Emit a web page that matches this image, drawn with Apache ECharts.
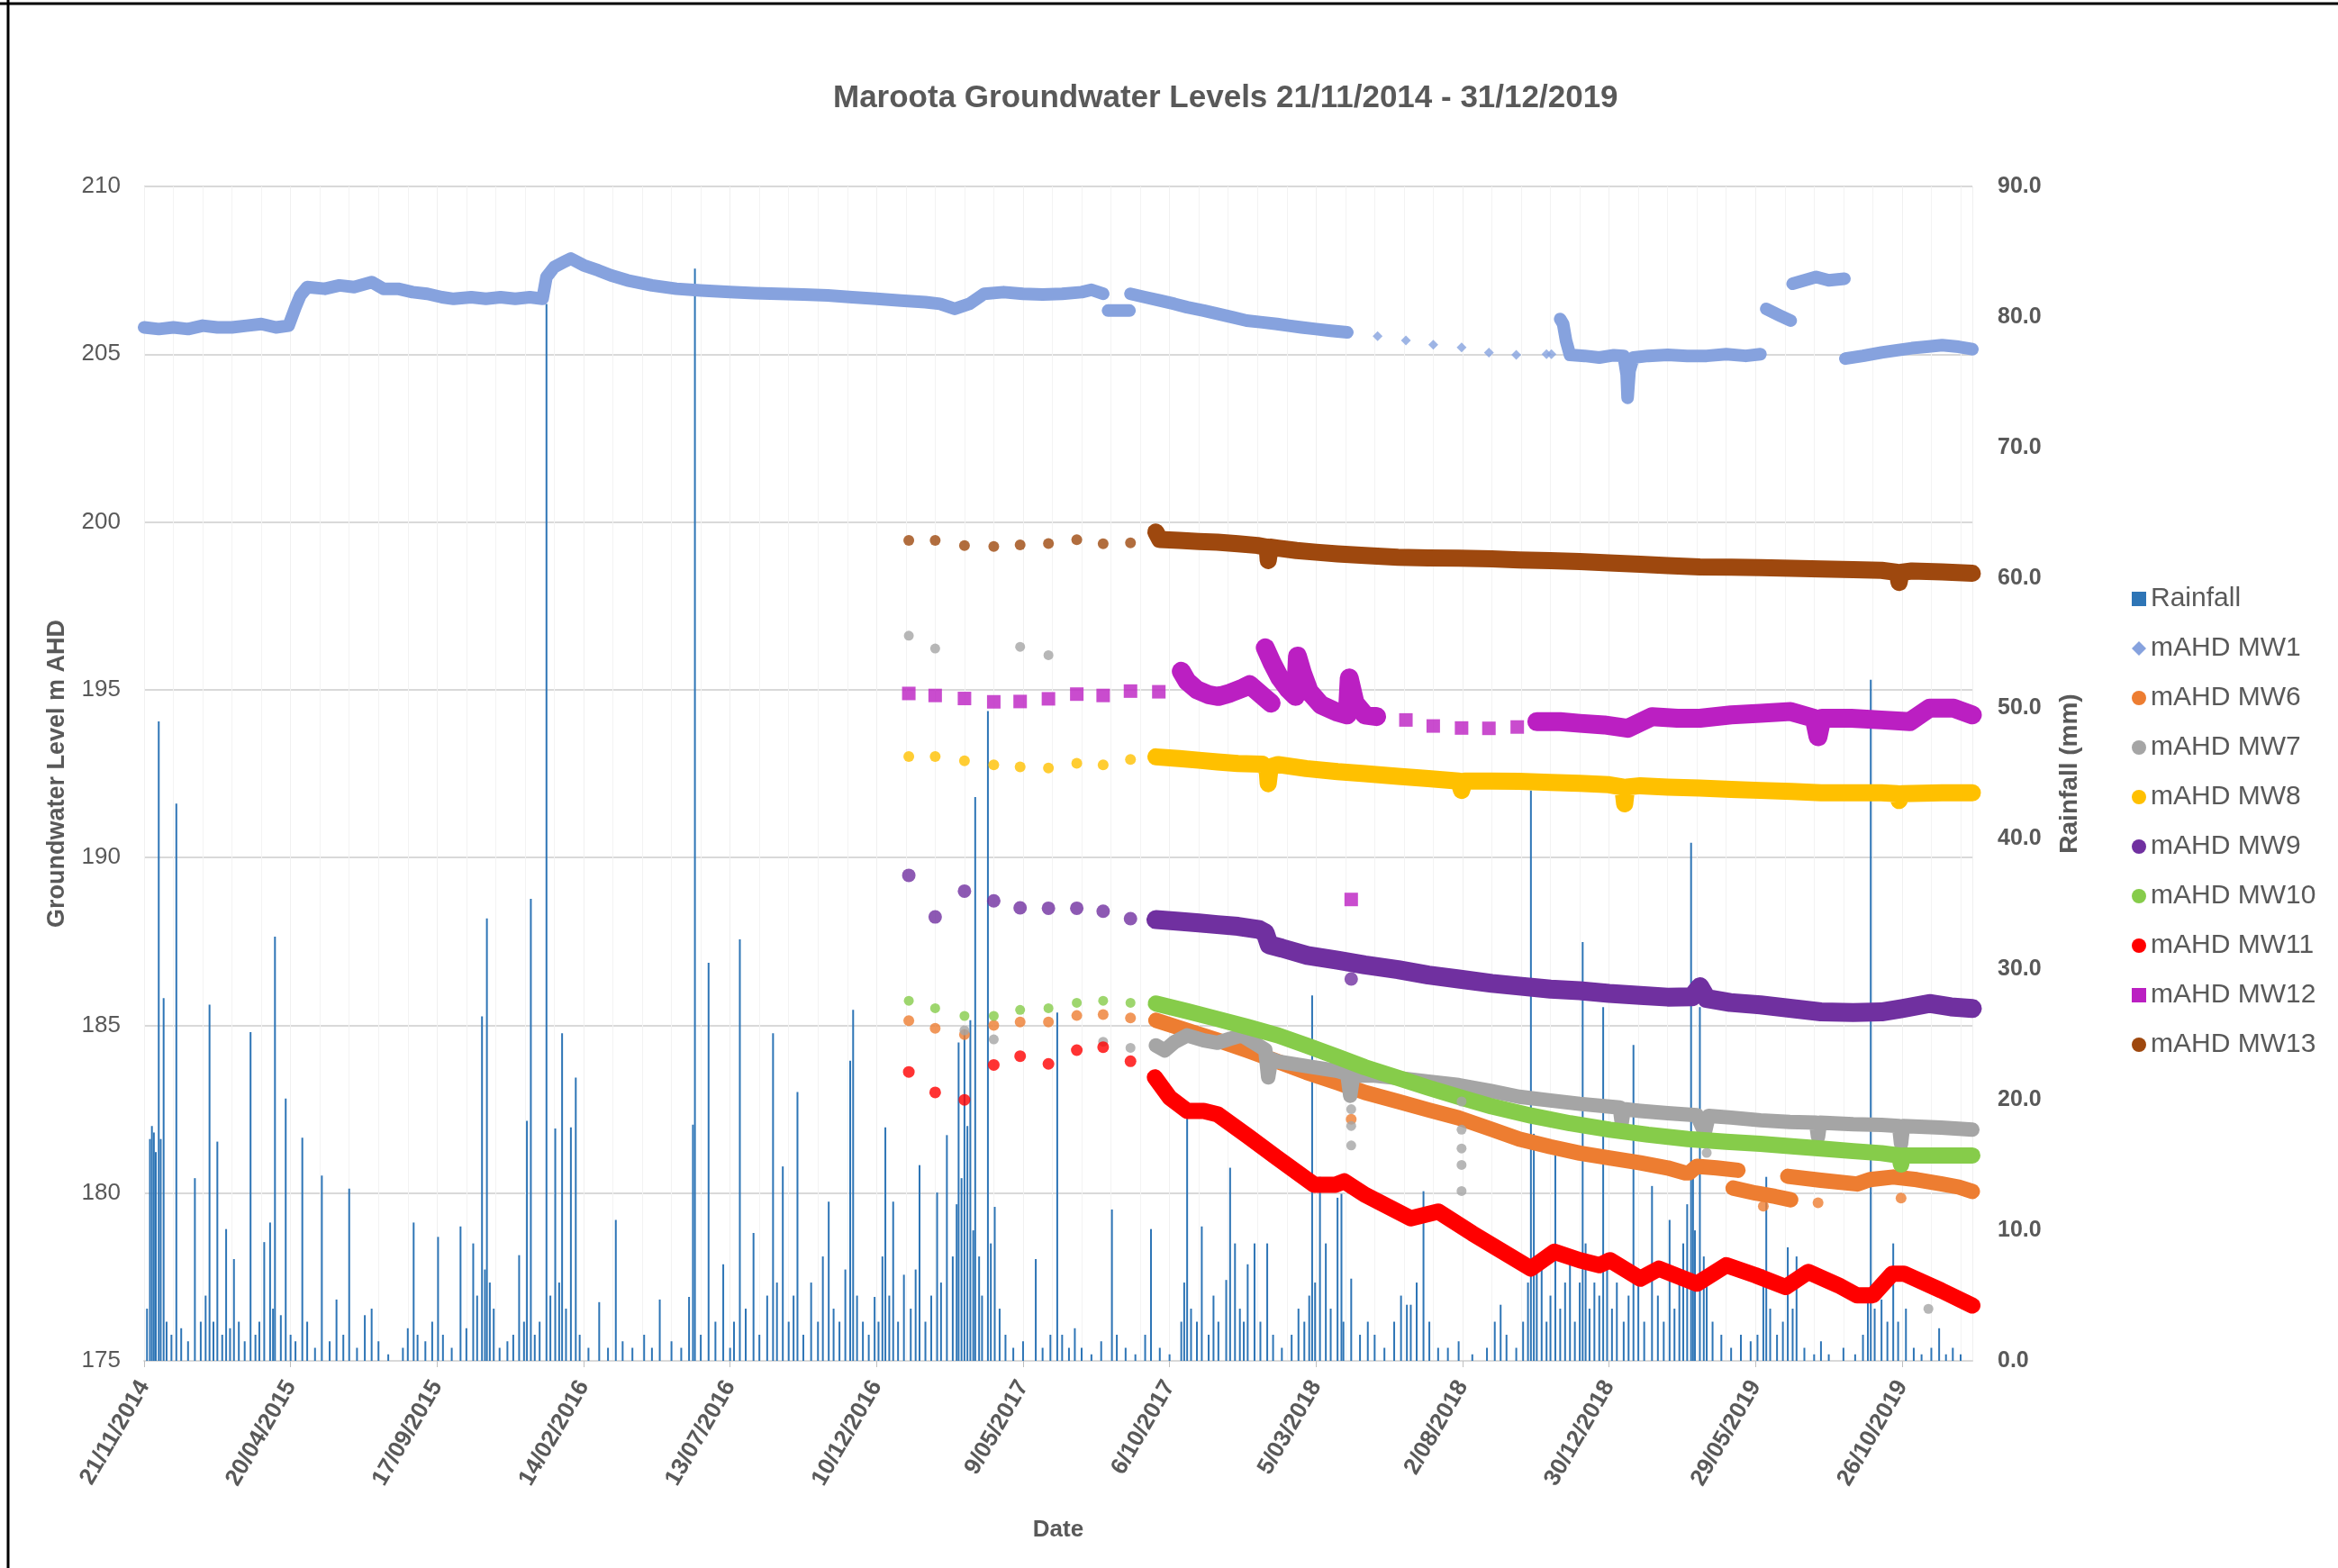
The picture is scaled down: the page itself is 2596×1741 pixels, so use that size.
<!DOCTYPE html>
<html>
<head>
<meta charset="utf-8">
<title>Maroota Groundwater Levels</title>
<script src="https://cdn.jsdelivr.net/npm/echarts@6/dist/echarts.min.js"></script>
<style>
    html, body { margin: 0; padding: 0; background: #fff; }
    #chart { width: 2596px; height: 1741px; }
</style>
</head>
<body>
<div id="chart"></div>
<script>
    // x values are days counted from 21/11/2014, the first date on the axis
    var dateLabels = ['21/11/2014', '20/04/2015', '17/09/2015', '14/02/2016', '13/07/2016', '10/12/2016',
        '9/05/2017', '6/10/2017', '5/03/2018', '2/08/2018', '30/12/2018', '29/05/2019', '26/10/2019'];

    // daily rainfall (mm), right axis
    var rainfall = [
        [3,4],[6,17],[8,18],[10,17.5],[12,16],[15,49],[17,17],[20,27.8],[23,3],[28,2],[33,42.7],[38,2.5],[45,1.5],
        [52,14],[58,3],[63,5],[67,27.3],[71,3],[75,16.8],[80,2],[84,10.1],[88,2.5],[92,7.8],[97,3],[103,1.5],
        [109,25.2],[114,2],[118,3],[123,9.1],[129,10.6],[132,4],[134,32.5],[140,3.5],[145,20.1],[150,2],[155,1.5],
        [162,17.1],[167,3],[175,1],[182,14.2],[190,1.5],[197,4.7],[204,2],[210,13.2],[218,1],[226,3.5],[233,4],
        [240,1.5],[250,0.5],[265,1],[270,2.5],[276,10.6],[280,2],[288,1.5],[295,3],[301,9.5],[306,2],[315,1],
        [324,10.3],[330,2.5],[337,9],[341,5],[346,26.4],[349,7],[351,33.9],[354,6],[358,4],[364,1],[372,1.5],
        [378,2],[384,8.1],[389,3],[392,18.4],[396,35.4],[400,2],[405,3],[412,81],[416,5],[421,17.8],[425,6],
        [428,25.1],[432,4],[437,17.9],[442,21.7],[446,2],[455,1],[466,4.5],[475,1],[483,10.8],[490,1.5],[500,1],
        [512,2],[520,1],[528,4.7],[540,1.5],[550,1],[558,4.9],[562,18.1],[564,83.7],[570,2],[578,30.5],[585,3],
        [593,7.4],[600,1],[604,3],[610,32.3],[616,4],[624,9.8],[630,2],[638,5],[644,25.1],[648,6],[654,14.9],
        [660,3],[665,5],[669,20.6],[675,2],[683,6],[690,3],[695,8],[701,12.2],[706,4],[712,3],[718,7],[723,23],
        [726,26.9],[730,5],[736,3],[742,2],[748,4.9],[752,3],[756,8],[759,17.9],[763,5],[767,12.2],[772,3],
        [778,6.6],[785,4],[790,7],[794,15],[800,3],[806,5],[812,12.9],[816,6],[822,17.3],[828,8],[832,12],
        [834,24.4],[837,14],[840,25.4],[843,18],[846,26.1],[849,10],[851,43.2],[855,8],[858,5],[864,49.8],
        [867,9],[871,11.8],[876,4],[882,2],[890,1],[900,1.5],[913,7.8],[920,1],[928,2],[935,26.7],
        [940,2],[947,1],[953,2.5],[960,1],[970,0.5],[980,1.5],[991,11.6],[996,2],[1005,1],[1015,0.5],[1025,2],
        [1031,10.1],[1040,1],[1050,0.5],[1062,3],[1065,6],[1068,19.5],[1072,4],[1078,3],[1083,10.3],[1090,2],
        [1095,5],[1100,3],[1108,6.2],[1112,14.8],[1117,9],[1122,4],[1126,3],[1130,7.4],[1137,9],[1143,3],
        [1150,9],[1156,2],[1165,1],[1175,2],[1182,4],[1188,3],[1193,5],[1196,28],[1199,6],[1204,14.1],[1210,9],
        [1215,4],[1222,12.5],[1226,12.8],[1228,3],[1236,6.3],[1245,2],[1253,3],[1260,2],[1270,1],[1280,3],
        [1287,5],[1293,4.3],[1297,4.3],[1303,6],[1310,13],[1316,3],[1325,1],[1335,1],[1346,1.5],[1360,0.5],
        [1375,1],[1383,3],[1389,4.3],[1395,2],[1405,1],[1412,3],[1417,6],[1420,43.7],[1423,17.4],[1426,8],
        [1431,7.6],[1436,3],[1440,5],[1445,16.3],[1450,4],[1455,6],[1460,8],[1465,3],[1470,6],[1473,32.1],
        [1476,9],[1480,4],[1485,6],[1490,5],[1494,27.1],[1498,8],[1503,4],[1508,6],[1515,3],[1520,5],[1525,24.2],
        [1530,6],[1536,3],[1544,13.4],[1550,5],[1556,3],[1562,10.8],[1567,4],[1572,6],[1576,9],[1580,12],
        [1584,39.7],[1586,14],[1588,10],[1593,27.1],[1597,8],[1600,6.5],[1606,3],[1615,2],[1625,1],[1635,2],
        [1645,1.5],[1652,2],[1658,7],[1661,14.1],[1665,4],[1672,2],[1678,3],[1683,8.7],[1688,4],[1692,8],
        [1700,1],[1710,0.5],[1717,1.5],[1725,0.5],[1740,1],[1752,0.5],[1760,2],[1765,5],[1768,52.2],[1772,4],
        [1779,4.7],[1785,3],[1791,9],[1796,3],[1804,4],[1812,1],[1820,0.5],[1830,1],[1838,2.5],[1845,0.5],
        [1852,1],[1860,0.5]
    ];

    // groundwater levels (m AHD): continuous logger records (null = gap) and single readings
    var mw1Line = [
        [0,205.8],[15,205.75],[30,205.8],[45,205.75],[60,205.85],[75,205.8],[90,205.8],[105,205.85],[120,205.9],
        [135,205.8],[148,205.85],[155,206.4],[160,206.75],[167,207.0],[185,206.95],[200,207.05],[215,207.0],
        [233,207.15],[245,206.95],[260,206.95],[275,206.85],[290,206.8],[305,206.7],[317,206.65],[335,206.7],
        [350,206.65],[365,206.7],[380,206.65],[395,206.7],[408,206.65],[412,207.3],[420,207.6],[430,207.75],
        [437,207.85],[450,207.65],[465,207.5],[478,207.35],[495,207.2],[520,207.05],[545,206.95],[570,206.9],
        [600,206.85],[625,206.82],[650,206.8],[675,206.78],[700,206.75],[725,206.7],[750,206.65],[775,206.6],
        [800,206.55],[815,206.5],[830,206.35],[845,206.5],[860,206.8],[880,206.85],[900,206.8],[920,206.78],
        [940,206.8],[960,206.85],[970,206.92],[982,206.8],[984,null],
        [987,206.3],[1009,206.3],[1009.5,null],
        [1010,206.8],[1025,206.7],[1040,206.6],[1055,206.5],[1068,206.4],[1085,206.3],[1100,206.2],[1115,206.1],
        [1129,206.0],[1145,205.95],[1160,205.9],[1172,205.85],[1185,205.8],[1200,205.75],[1215,205.7],
        [1232,205.65],[1240,null],
        [1450,206.05],[1453,205.9],[1456,205.4],[1460,204.98],[1475,204.95],[1490,204.9],[1505,204.97],
        [1515,204.95],[1518,204.4],[1519,203.7],[1521,204.5],[1525,204.9],[1540,204.95],[1560,204.98],
        [1580,204.95],[1600,204.95],[1620,205.0],[1640,204.95],[1655,205.0],[1658,null],
        [1661,206.35],[1668,206.25],[1675,206.15],[1686,206.0],[1687,null],
        [1688,207.1],[1700,207.2],[1712,207.3],[1725,207.2],[1741,207.25],[1741.5,null],
        [1742,204.87],[1760,204.95],[1779,205.05],[1795,205.12],[1810,205.18],[1825,205.22],[1841,205.27],
        [1858,205.22],[1872,205.15]
    ];
    var mw1Dots = [[1263,205.54],[1292,205.41],[1320,205.28],[1349,205.2],[1377,205.05],[1405,204.98],[1436,205.0],[1441,205.0]];

    var mw6Line = [
        [1036,185.15],[1068,184.85],[1099,184.56],[1130,184.25],[1161,183.92],[1190,183.6],[1222,183.29],
        [1250,183.0],[1284,182.73],[1315,182.48],[1346,182.24],[1380,181.9],[1408,181.61],[1440,181.38],
        [1470,181.19],[1500,181.05],[1532,180.9],[1560,180.75],[1578,180.6],[1582,180.6],[1590,180.8],
        [1610,180.75],[1632,180.68],[1633,null],
        [1627,180.15],[1650,180.0],[1670,179.9],[1686,179.8],[1686.5,null],
        [1683,180.5],[1717,180.38],[1754,180.27],[1767,180.4],[1791,180.48],[1815,180.4],[1841,180.27],
        [1858,180.18],[1872,180.05]
    ];
    var mw6Dots = [[783,185.14],[810,184.91],[840,184.72],[870,185.0],[897,185.1],[926,185.1],[955,185.29],
        [982,185.32],[1010,185.22],[1236,182.2],[1658,179.61],[1714,179.71],[1799,179.85]];

    var mw7Line = [
        [1036,184.4],[1045,184.25],[1055,184.5],[1068,184.7],[1085,184.55],[1099,184.48],[1112,184.6],
        [1124,184.7],[1138,184.45],[1148,184.27],[1151,183.45],[1154,184.0],[1161,183.92],[1191,183.78],
        [1222,183.64],[1232,183.55],[1235,182.9],[1238,183.5],[1260,183.5],[1284,183.43],[1315,183.32],
        [1346,183.22],[1378,183.05],[1408,182.87],[1440,182.76],[1470,182.66],[1511,182.55],[1513,182.1],
        [1515,182.5],[1532,182.45],[1560,182.38],[1590,182.32],[1598,181.8],[1602,182.3],[1625,182.25],
        [1655,182.17],[1685,182.12],[1712,182.1],[1714,181.68],[1716,182.1],[1750,182.05],[1779,182.03],
        [1797,182.0],[1799,181.47],[1801,182.0],[1840,181.95],[1872,181.89]
    ];
    var mw7Dots = [[783,196.61],[810,196.23],[840,184.85],[870,184.58],[897,196.28],[926,196.03],[982,184.51],
        [1010,184.33],[1236,182.5],[1236,182.0],[1236,181.42],[1349,182.73],[1349,181.89],[1349,181.33],
        [1349,180.84],[1349,180.06],[1600,181.2],[1827,176.55]];

    var mw8Line = [
        [1036,193.0],[1060,192.95],[1080,192.9],[1099,192.85],[1120,192.8],[1145,192.78],[1150,192.6],
        [1151,192.2],[1153,192.7],[1161,192.77],[1190,192.65],[1222,192.56],[1250,192.5],[1284,192.42],
        [1315,192.35],[1346,192.28],[1349,192.0],[1352,192.28],[1380,192.28],[1408,192.27],[1440,192.24],
        [1470,192.21],[1500,192.17],[1514,192.1],[1516,191.6],[1518,192.1],[1532,192.14],[1560,192.1],
        [1593,192.07],[1625,192.03],[1655,192.0],[1687,191.97],[1717,191.93],[1750,191.93],[1779,191.93],
        [1795,191.9],[1797,191.7],[1800,191.9],[1841,191.93],[1872,191.93]
    ];
    var mw8Dots = [[783,193.01],[810,193.01],[840,192.88],[870,192.76],[897,192.7],[926,192.67],[955,192.81],
        [982,192.76],[1010,192.92]];

    var mw9Line = [
        [1036,188.15],[1060,188.1],[1080,188.05],[1099,188.0],[1120,187.95],[1142,187.85],[1148,187.75],
        [1152,187.4],[1165,187.3],[1191,187.08],[1222,186.94],[1250,186.8],[1284,186.66],[1315,186.5],
        [1346,186.38],[1380,186.25],[1408,186.17],[1440,186.08],[1470,186.03],[1500,185.95],[1532,185.89],
        [1560,185.84],[1585,185.85],[1593,186.15],[1600,185.8],[1624,185.68],[1655,185.61],[1687,185.5],
        [1717,185.4],[1750,185.38],[1779,185.4],[1800,185.5],[1828,185.65],[1850,185.55],[1872,185.5]
    ];
    var mw9Dots = [[783,189.47],[810,188.23],[840,189.0],[870,188.71],[897,188.5],[926,188.49],[955,188.49],
        [982,188.4],[1010,188.18],[1236,186.38]];

    var mw10Line = [
        [1036,185.65],[1068,185.42],[1099,185.19],[1130,184.95],[1161,184.7],[1190,184.4],[1222,184.06],
        [1250,183.75],[1284,183.43],[1315,183.14],[1346,182.87],[1380,182.58],[1420,182.31],[1460,182.08],
        [1501,181.89],[1540,181.74],[1581,181.61],[1620,181.53],[1655,181.47],[1690,181.39],[1717,181.33],
        [1750,181.25],[1779,181.19],[1797,181.12],[1799,180.85],[1801,181.12],[1840,181.12],[1872,181.12]
    ];
    var mw10Dots = [[783,185.73],[810,185.51],[840,185.28],[870,185.28],[897,185.46],[926,185.51],[955,185.67],
        [982,185.73],[1010,185.67]];

    var mw11Line = [
        [1035,183.45],[1050,182.85],[1068,182.45],[1085,182.45],[1099,182.35],[1130,181.7],[1160,181.05],
        [1198,180.25],[1220,180.25],[1229,180.35],[1250,179.95],[1297,179.25],[1325,179.45],[1360,178.8],
        [1420,177.75],[1444,178.25],[1470,178.0],[1490,177.85],[1501,178.0],[1532,177.45],[1551,177.75],
        [1590,177.3],[1620,177.85],[1650,177.55],[1681,177.2],[1704,177.65],[1735,177.25],[1754,176.95],
        [1770,176.95],[1790,177.6],[1802,177.6],[1840,177.1],[1872,176.65]
    ];
    var mw11Dots = [[783,183.61],[810,183.0],[840,182.78],[870,183.82],[897,184.08],[926,183.85],[955,184.26],
        [982,184.35],[1010,183.93]];

    var mw12Line = [
        [1062,195.55],[1068,195.25],[1078,195.0],[1090,194.85],[1100,194.8],[1112,194.9],[1125,195.05],
        [1132,195.15],[1140,194.95],[1148,194.75],[1154,194.6],[1154.5,null],
        [1148,196.25],[1155,195.8],[1163,195.35],[1172,195.0],[1179,194.8],[1181,196.0],[1186,195.5],
        [1193,194.95],[1205,194.55],[1220,194.35],[1232,194.25],[1234,195.35],[1240,194.6],[1250,194.25],
        [1262,194.2],[1263,null],
        [1426,194.05],[1450,194.05],[1470,194.0],[1495,193.95],[1519,193.85],[1544,194.2],[1570,194.15],
        [1593,194.15],[1625,194.25],[1655,194.3],[1686,194.35],[1710,194.15],[1714,193.6],[1718,194.15],
        [1748,194.15],[1779,194.1],[1808,194.05],[1828,194.45],[1853,194.45],[1872,194.25]
    ];
    var mw12Dots = [[783,194.89],[810,194.83],[840,194.74],[870,194.64],[897,194.65],[926,194.73],[955,194.87],
        [982,194.83],[1010,194.96],[1039,194.94],[1236,188.75],[1292,194.1],[1320,193.92],[1349,193.86],
        [1377,193.85],[1406,193.89]];

    var mw13Line = [
        [1036,199.7],[1040,199.48],[1060,199.45],[1080,199.42],[1099,199.4],[1120,199.35],[1140,199.3],
        [1150,199.25],[1151,198.85],[1153,199.25],[1161,199.22],[1180,199.15],[1200,199.1],[1222,199.05],
        [1250,199.0],[1284,198.95],[1315,198.93],[1346,198.92],[1380,198.9],[1408,198.87],[1440,198.85],
        [1470,198.82],[1500,198.78],[1532,198.74],[1560,198.7],[1593,198.66],[1625,198.65],[1655,198.64],
        [1687,198.62],[1717,198.6],[1750,198.58],[1779,198.56],[1795,198.5],[1797,198.2],[1799,198.5],
        [1810,198.54],[1841,198.51],[1872,198.47]
    ];
    var mw13Dots = [[783,199.45],[810,199.45],[840,199.3],[870,199.27],[897,199.32],[926,199.36],[955,199.47],
        [982,199.35],[1010,199.38]];

    var textColor = '#595959';
    var font = 'Liberation Sans';

    function levelLine(name, data, color, width) {
        return {
            name: name, type: 'line', data: data, symbol: 'none', showSymbol: false,
            connectNulls: false, z: 3,
            itemStyle: { color: color },
            lineStyle: { color: color, width: width, cap: 'round', join: 'round' }
        };
    }
    function levelDots(name, data, color, symbol, size) {
        return {
            name: name, type: 'scatter', data: data, symbol: symbol, symbolSize: size, z: 3,
            itemStyle: { color: color }
        };
    }

    var wells = [
        { name: 'mAHD MW1', line: mw1Line, dots: mw1Dots, color: '#86A2DE', width: 14, symbol: 'diamond', size: 11 },
        { name: 'mAHD MW6', line: mw6Line, dots: mw6Dots, color: '#ED7D31', width: 17, symbol: 'circle', size: 12 },
        { name: 'mAHD MW7', line: mw7Line, dots: mw7Dots, color: '#A5A5A5', width: 16, symbol: 'circle', size: 11 },
        { name: 'mAHD MW8', line: mw8Line, dots: mw8Dots, color: '#FFC000', width: 19, symbol: 'circle', size: 12 },
        { name: 'mAHD MW9', line: mw9Line, dots: mw9Dots, color: '#7030A0', width: 21, symbol: 'circle', size: 15 },
        { name: 'mAHD MW10', line: mw10Line, dots: mw10Dots, color: '#86CC4A', width: 18, symbol: 'circle', size: 11 },
        { name: 'mAHD MW11', line: mw11Line, dots: mw11Dots, color: '#FF0000', width: 18, symbol: 'circle', size: 13 },
        { name: 'mAHD MW12', line: mw12Line, dots: mw12Dots, color: '#BB1FC2', width: 21, symbol: 'rect', size: 15 },
        { name: 'mAHD MW13', line: mw13Line, dots: mw13Dots, color: '#9E480E', width: 19, symbol: 'circle', size: 12 }
    ];

    var series = [{
        name: 'Rainfall', type: 'bar', yAxisIndex: 1, data: rainfall, barWidth: 2, z: 1,
        itemStyle: { color: '#2E75B6' }
    }];
    var legendData = [{ name: 'Rainfall', icon: 'rect' }];
    wells.forEach(function (w) {
        series.push(levelLine(w.name, w.line, w.color, w.width));
        series.push(levelDots(w.name, w.dots, w.color, w.symbol, w.size));
        legendData.push({ name: w.name, icon: w.symbol });
    });

    var option = {
        animation: false,
        backgroundColor: '#fff',
        textStyle: { fontFamily: font },
        title: {
            text: 'Maroota Groundwater Levels 21/11/2014 - 31/12/2019',
            left: 920, top: 87,
            textStyle: { fontFamily: font, fontSize: 35, fontWeight: 'bold', color: textColor }
        },
        legend: {
            orient: 'vertical', left: 2362, top: 645,
            itemWidth: 16, itemHeight: 16, itemGap: 25,
            data: legendData,
            textStyle: { fontFamily: font, fontSize: 30, lineHeight: 30, color: textColor }
        },
        grid: { left: 160, right: 406, top: 207, bottom: 230 },
        xAxis: {
            type: 'value', min: 0, max: 1872, interval: 150,
            name: 'Date', nameLocation: 'middle', nameGap: 175,
            nameTextStyle: { fontFamily: font, fontSize: 26, fontWeight: 'bold', color: textColor },
            axisLine: { lineStyle: { color: '#D9D9D9', width: 2 } },
            axisTick: { show: true, length: 7, lineStyle: { color: '#BFBFBF' } },
            axisLabel: {
                rotate: 60, margin: 24, fontSize: 26, fontWeight: 'bold', color: textColor, showMaxLabel: false,
                formatter: function (v) { return v % 150 === 0 ? (dateLabels[v / 150] || '') : ''; }
            },
            splitLine: { show: true, lineStyle: { color: '#F0F0F0', width: 1 } },
            minorTick: { show: false, splitNumber: 5 },
            minorSplitLine: { show: true, lineStyle: { color: '#F3F3F3', width: 1 } }
        },
        yAxis: [{
            type: 'value', min: 175, max: 210, interval: 5,
            name: 'Groundwater Level m AHD', nameLocation: 'middle', nameGap: 83,
            nameTextStyle: { fontFamily: font, fontSize: 27, fontWeight: 'bold', color: textColor },
            axisLine: { show: false }, axisTick: { show: false },
            axisLabel: { fontSize: 26, color: textColor, margin: 26 },
            splitLine: { lineStyle: { color: '#D9D9D9', width: 2 } }
        }, {
            type: 'value', min: 0, max: 90, interval: 10, position: 'right',
            name: 'Rainfall (mm)', nameLocation: 'middle', nameGap: 94,
            nameTextStyle: { fontFamily: font, fontSize: 28, fontWeight: 'bold', color: textColor },
            axisLine: { show: false }, axisTick: { show: false },
            axisLabel: { fontSize: 25, color: textColor, margin: 28, fontWeight: 'bold',
                formatter: function (v) { return v.toFixed(1); } },
            splitLine: { show: false }
        }],
        graphic: [
            { type: 'line', shape: { x1: 9, y1: 0, x2: 9, y2: 1741 }, style: { stroke: '#000', lineWidth: 3 } },
            { type: 'line', shape: { x1: 0, y1: 4, x2: 2596, y2: 4 }, style: { stroke: '#000', lineWidth: 3 } }
        ],
        series: series
    };

    var mychart = echarts.init(document.getElementById('chart'));
    mychart.setOption(option);
</script>
</body>
</html>
